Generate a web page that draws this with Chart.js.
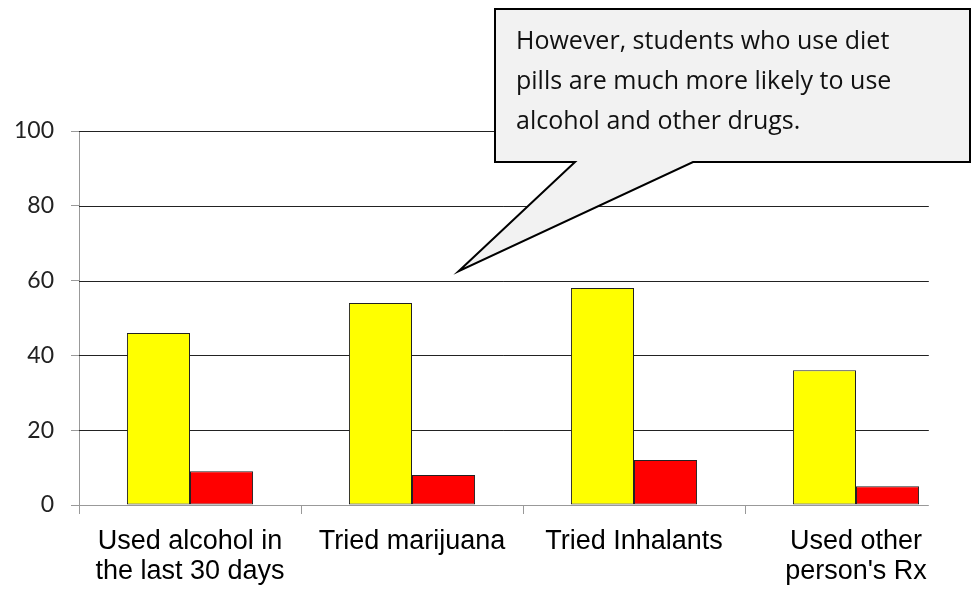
<!DOCTYPE html>
<html>
<head>
<meta charset="utf-8">
<script src="https://cdn.jsdelivr.net/npm/chart.js@4.4.1/dist/chart.umd.min.js"></script>
<style>
  html, body { margin: 0; padding: 0; background: #fff; }
  #wrap { width: 977px; height: 590px; position: relative; }
</style>
</head>
<body>
<div id="wrap"><canvas id="chart" width="977" height="590"></canvas></div>
<script>
// Catégories et valeurs
const categories = [
  ["Used alcohol in", "the last 30 days"],
  "Tried marijuana",
  "Tried Inhalants",
  ["Used other", "person's Rx"],
];
const dietPillUsers = [46, 54, 58, 36];
const nonUsers = [9, 8, 12, 5];
const yTicks = [0, 20, 40, 60, 80, 100];
const calloutLines = [
  "However, students who use diet",
  "pills are much more likely to use",
  "alcohol and other drugs.",
];

// Grille horizontale + bulle de commentaire
const calloutPlugin = {
  id: "callout",
  beforeDatasetsDraw(chart) {
    const { ctx, chartArea, scales } = chart;
    const right = chartArea.left + (chartArea.right - chartArea.left) * 0.957;
    ctx.save();
    ctx.strokeStyle = "#222";
    ctx.lineWidth = 1;
    yTicks.forEach((v) => {
      if (v === 0) return;
      const y = Math.round(scales.y.getPixelForValue(v)) + 0.5;
      ctx.beginPath();
      ctx.moveTo(chartArea.left, y);
      ctx.lineTo(right, y);
      ctx.stroke();
    });
    // axe des x
    const y0 = Math.round(scales.y.getPixelForValue(0)) + 0.5;
    ctx.strokeStyle = "#999";
    ctx.beginPath();
    ctx.moveTo(chartArea.left - 8, y0);
    ctx.lineTo(right, y0);
    ctx.stroke();
    ctx.restore();
  },
  afterDatasetsDraw(chart) {
    const { ctx, scales } = chart;
    const tipX = scales.x.getPixelForValue(0) + (scales.x.getPixelForValue(1) - scales.x.getPixelForValue(0)) * 1.21;
    const tipY = scales.y.getPixelForValue(62.5);
    const bx = 495, by = 9, bw = 475, bh = 153;
    ctx.save();
    ctx.fillStyle = "#f2f2f2";
    ctx.strokeStyle = "#000";
    ctx.lineWidth = 2;
    ctx.lineJoin = "miter";
    ctx.beginPath();
    ctx.moveTo(bx, by);
    ctx.lineTo(bx + bw, by);
    ctx.lineTo(bx + bw, by + bh);
    ctx.lineTo(693, by + bh);
    ctx.lineTo(tipX, tipY);
    ctx.lineTo(575, by + bh);
    ctx.lineTo(bx, by + bh);
    ctx.closePath();
    ctx.fill();
    ctx.stroke();
    ctx.fillStyle = "#111";
    ctx.font = "25px 'Open Sans'";
    ctx.textBaseline = "alphabetic";
    calloutLines.forEach((line, i) => {
      ctx.fillText(line, 516, 49 + i * 40);
    });
    ctx.restore();
  },
};

new Chart(document.getElementById("chart"), {
  type: "bar",
  data: {
    labels: categories,
    datasets: [
      {
        label: "Diet pill users",
        data: dietPillUsers,
        backgroundColor: "#ffff00",
        borderColor: "#222",
        borderWidth: 1,
        borderSkipped: false,
      },
      {
        label: "Non users",
        data: nonUsers,
        backgroundColor: "#ff0000",
        borderColor: "#222",
        borderWidth: 1,
        borderSkipped: false,
      },
    ],
  },
  options: {
    responsive: false,
    animation: false,
    layout: { padding: { top: 131, right: 10, left: 0, bottom: 0 } },
    plugins: {
      legend: { display: false },
      tooltip: { enabled: false },
    },
    datasets: {
      bar: { barPercentage: 1, categoryPercentage: 0.568 },
    },
    scales: {
      x: {
        offset: true,
        grid: {
          offset: true,
          drawOnChartArea: false,
          drawTicks: true,
          tickLength: 9,
          color: (c) =>
            c.index === undefined || c.index >= categories.length ? "rgba(0,0,0,0)" : "#999",
        },
        border: { display: false },
        ticks: {
          padding: 12,
          maxRotation: 0,
          autoSkip: false,
          color: "#000",
          font: { family: "Liberation Sans", size: 27, lineHeight: 1.12 },
        },
        afterFit(scale) {
          scale.height = 85;
        },
      },
      y: {
        min: 0,
        max: 100,
        grid: {
          drawOnChartArea: false,
          tickLength: 8,
          color: "#999",
        },
        border: { color: "#999" },
        ticks: {
          stepSize: 20,
          padding: 17,
          color: "#222",
          font: { family: "Lato", size: 23 },
        },
        afterFit(scale) {
          scale.width = 79;
        },
      },
    },
  },
  plugins: [calloutPlugin],
});
</script>
</body>
</html>
